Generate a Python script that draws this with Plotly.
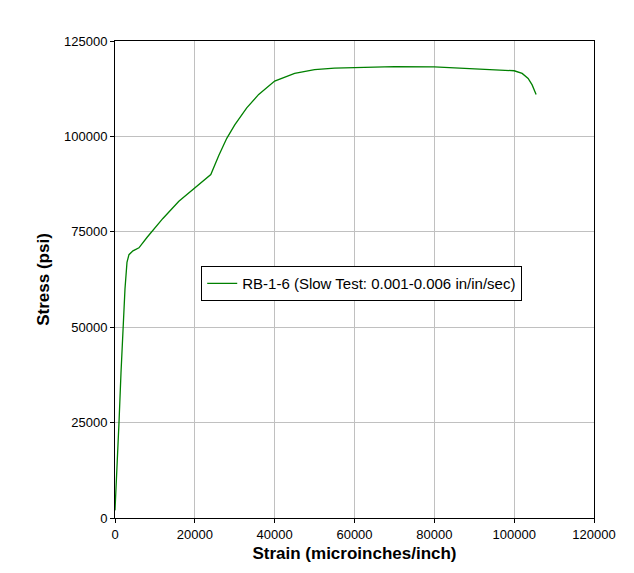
import plotly.graph_objects as go

strain = [0, 300, 700, 1000, 1500, 2000, 2500, 3000, 3500, 4500, 6000, 8000, 12000, 16000,
          20000, 24000, 26000, 28000, 30000, 33000, 36000, 40000, 45000, 50000, 55000,
          60000, 70000, 80000, 90000, 100000, 102000, 103500, 104500, 105500]
stress = [2000, 8000, 18000, 25000, 38000, 50000, 60000, 67000, 69000, 70000, 70800, 73500,
          78500, 83000, 86500, 90000, 95000, 99500, 103000, 107500, 111000, 114500, 116500,
          117500, 117900, 118000, 118300, 118200, 117700, 117200, 116500, 115200, 113500, 111000]

fig = go.Figure()
fig.add_trace(go.Scatter(x=strain, y=stress, mode="lines",
                         line=dict(color="#008000", width=1.3),
                         name="RB-1-6 (Slow Test: 0.001-0.006 in/in/sec)"))

ax = dict(showline=True, linecolor="black", linewidth=1, mirror=True,
          showgrid=True, gridcolor="#c0c0c0", gridwidth=1, zeroline=False,
          ticks="outside", ticklen=4, tickcolor="black", tickformat="d",
          automargin=False, tickfont=dict(size=13, color="black"))
fig.update_layout(
    width=634, height=573,
    paper_bgcolor="white", plot_bgcolor="white",
    font=dict(family="Liberation Sans, Arial", color="black"),
    margin=dict(l=107, r=48, t=33, b=63),
    xaxis=dict(ax, range=[0, 120000], dtick=20000,
               title=dict(text="<b>Strain (microinches/inch)</b>", font=dict(size=17), standoff=6)),
    yaxis=dict(ax, range=[0, 125000], dtick=25000,
               title=dict(text="<b>Stress (psi)</b>", font=dict(size=17), standoff=10)),
    showlegend=True,
    legend=dict(x=0.18, y=0.528, xanchor="left", yanchor="top",
                bgcolor="white", bordercolor="black", borderwidth=1,
                font=dict(size=15, color="black")),
)
fig.write_html("out.html")
